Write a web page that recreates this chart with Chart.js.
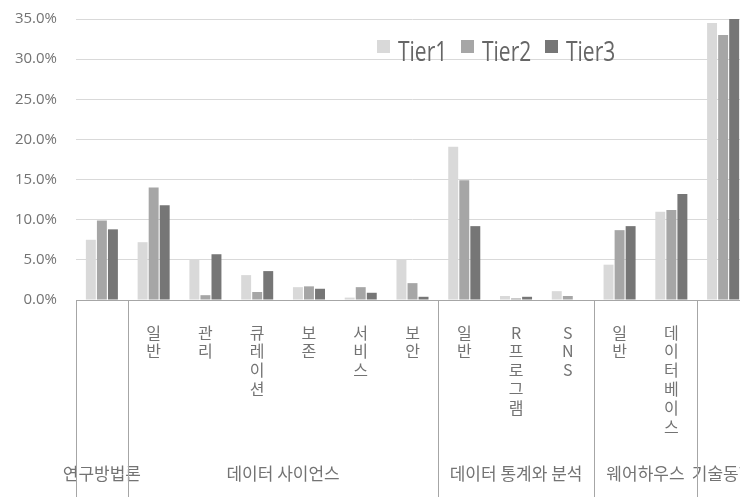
<!DOCTYPE html>
<html>
<head>
<meta charset="utf-8">
<script src="https://cdn.jsdelivr.net/npm/chart.js@4"></script>
<style>
  body { margin: 0; overflow: hidden; background: #fff; }
  #wrap { position: relative; width: 760px; height: 497px; }
  #legend { position: absolute; left: 377px; top: 40px; display: flex; font-family: 'Open Sans', sans-serif; color: #666; }
  .item { position: relative; width: 84px; height: 26px; }
  .box { position: absolute; left: 0; top: 0; width: 13px; height: 13px; }
  .lbl { position: absolute; left: 21px; top: 1px; font-size: 21px; line-height: 21px; transform: scaleY(1.3); }
</style>
</head>
<body>
<div id="wrap">
  <canvas id="chart" width="760" height="497"></canvas>
  <div id="legend"></div>
</div>
<script>
// sub categories (empty where the group has no sub label)
const subLabels = ["", "일반", "관리", "큐레이션", "보존", "서비스", "보안", "일반", "R프로그램", "SNS", "일반", "데이터베이스", ""];
const groupNames = ["연구방법론", "데이터 사이언스", "데이터 통계와 분석", "웨어하우스", "기술동향"];
const groupSizes = [1, 6, 3, 2, 1];

const seriesNames = ["Tier1", "Tier2", "Tier3"];
const tier1 = [7.5, 7.2, 5.0, 3.1, 1.6, 0.3, 5.0, 19.1, 0.5, 1.1, 4.4, 11.0, 34.5];
const tier2 = [9.9, 14.0, 0.6, 1.0, 1.7, 1.6, 2.1, 14.9, 0.2, 0.5, 8.7, 11.2, 33.0];
const tier3 = [8.8, 11.8, 5.7, 3.6, 1.4, 0.9, 0.4, 9.2, 0.4, 0.0, 9.2, 13.2, 35.0];
const colors = ["#d9d9d9", "#a6a6a6", "#767676"];

const yTicks = [0, 5, 10, 15, 20, 25, 30, 35];
const textColor = "#737373";

// group centers / boundaries in category index units
let groupCenters = [];
let boundaries = [];
let start = 0;
groupSizes.forEach(n => {
    boundaries.push(start);
    groupCenters.push(start + (n - 1) / 2);
    start += n;
});

// vertical separators under the axis
const separators = {
    id: "separators",
    afterDraw(chart) {
        const x = chart.scales.x;
        const ctx = chart.ctx;
        const step = x.width / subLabels.length;
        ctx.save();
        ctx.strokeStyle = "#a6a6a6";
        ctx.lineWidth = 1;
        boundaries.forEach(b => {
            const px = Math.round(x.getPixelForValue(b) - step / 2) + 0.5;
            ctx.beginPath();
            ctx.moveTo(px, chart.chartArea.bottom);
            ctx.lineTo(px, chart.height);
            ctx.stroke();
        });
        ctx.restore();
    }
};

const noPad = s => { s.paddingTop = 0; s.paddingBottom = 0; };

const ctx = document.getElementById("chart").getContext("2d");
new Chart(ctx, {
    type: "bar",
    data: {
        labels: subLabels.map(s => s.split("")),
        datasets: [
            { label: seriesNames[0], data: tier1, backgroundColor: colors[0] },
            { label: seriesNames[1], data: tier2, backgroundColor: colors[1] },
            { label: seriesNames[2], data: tier3, backgroundColor: colors[2] }
        ]
    },
    options: {
        responsive: false,
        animation: false,
        datasets: { bar: { categoryPercentage: 0.64, barPercentage: 0.9 } },
        layout: { padding: { top: 19, right: 11, left: 0, bottom: 0 } },
        plugins: { legend: { display: false }, tooltip: { enabled: false } },
        scales: {
            y: {
                min: 0,
                max: 35,
                afterBuildTicks: s => { s.ticks = yTicks.map(v => ({ value: v })); },
                afterFit: s => { s.width = 76; noPad(s); },
                grid: { color: "#d9d9d9", drawTicks: false },
                border: { display: false },
                ticks: {
                    padding: 19,
                    color: textColor,
                    font: { family: "'Open Sans', sans-serif", size: 15 },
                    callback: v => v.toFixed(1) + "%"
                }
            },
            x: {
                afterFit: s => { s.height = 150; noPad(s); },
                grid: { display: false },
                border: { display: true, color: "#a6a6a6" },
                ticks: {
                    autoSkip: false,
                    maxRotation: 0,
                    minRotation: 0,
                    padding: 15,
                    color: textColor,
                    font: { family: "'Noto Sans CJK KR', sans-serif", size: 16, lineHeight: 1.18 }
                }
            },
            group: {
                type: "linear",
                position: "bottom",
                offset: false,
                min: -0.5,
                max: subLabels.length - 0.5,
                afterBuildTicks: s => { s.ticks = groupCenters.map(v => ({ value: v })); },
                afterFit: s => { s.height = 47; noPad(s); },
                grid: { display: false, offset: false },
                border: { display: false },
                ticks: {
                    autoSkip: false,
                    maxRotation: 0,
                    minRotation: 0,
                    padding: 5,
                    color: textColor,
                    font: { family: "'Noto Sans CJK KR', sans-serif", size: 17 },
                    callback: v => groupNames[groupCenters.indexOf(v)]
                }
            }
        }
    },
    plugins: [separators]
});

// legend
const legend = document.getElementById("legend");
seriesNames.forEach((name, i) => {
    const item = document.createElement("div");
    item.className = "item";
    item.innerHTML = '<div class="box" style="background:' + colors[i] + '"></div><span class="lbl">' + name + '</span>';
    legend.appendChild(item);
});
</script>
</body>
</html>
